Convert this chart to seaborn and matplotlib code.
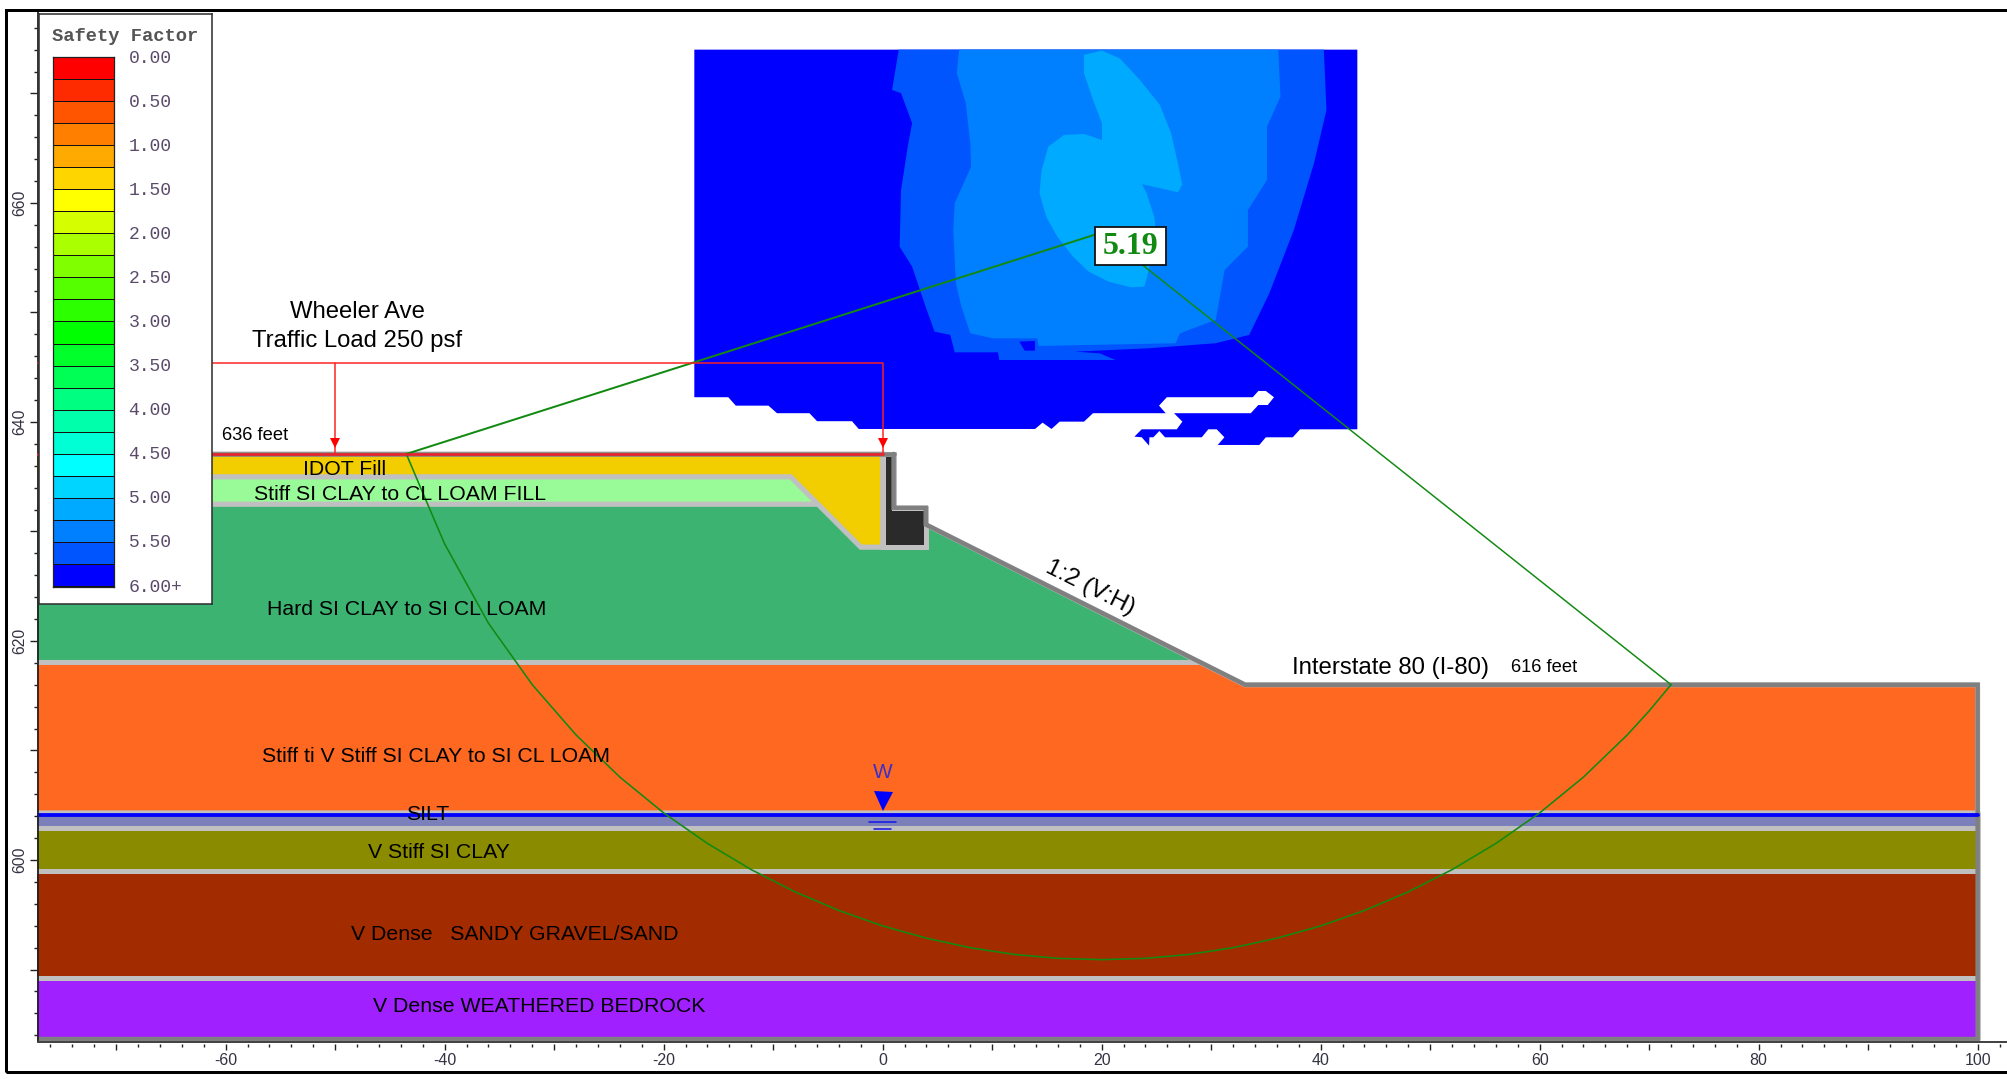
import matplotlib
matplotlib.use('Agg')
import matplotlib.pyplot as plt
from matplotlib.colors import ListedColormap
from matplotlib.patches import Rectangle
import numpy as np
import seaborn as sns

W, H = 2007, 1079

# --- legend
legend_title = 'Safety Factor'
legend_labels = ['0.00', '0.50', '1.00', '1.50', '2.00', '2.50', '3.00', '3.50', '4.00', '4.50', '5.00', '5.50', '6.00+']
legend_colors = ['#ff0000', '#ff2b00', '#ff5500', '#ff8000', '#ffaa00', '#ffd500', '#ffff00', '#d5ff00',
                 '#aaff00', '#80ff00', '#55ff00', '#2bff00', '#00ff00', '#00ff2b', '#00ff55', '#00ff80',
                 '#00ffaa', '#00ffd5', '#00ffff', '#00d5ff', '#00aaff', '#0080ff', '#0055ff', '#0000ff']

# --- axis ticks
x_major = [-70, -60, -50, -40, -30, -20, -10, 0, 10, 20, 30, 40, 50, 60, 70, 80, 90, 100]
x_labels = ['', '-60', '', '-40', '', '-20', '', '0', '', '20', '', '40', '', '60', '', '80', '', '100']
y_major = [590, 600, 610, 620, 630, 640, 650, 660, 670]
y_labels = ['', '600', '', '620', '', '640', '', '660', '']

# --- slope section, elevations in feet (left ends run past the axis and get clipped)
left_x, right_x = -79, 100
crest_y = 637.08
fill_x = [-79, 0, 0, -2, -8.4, -79]
fill_y = [637.08, 637.08, 628.58, 628.58, 635, 635]
clay_fill_x = [-79, -8.4, -5.9, -79]
clay_fill_y = [635, 635, 632.5, 632.5]
hard_clay_x = [-79, -5.9, -2, 3.93, 3.93, 29, -79]
hard_clay_y = [632.5, 632.5, 628.58, 628.58, 630.64, 618.04, 618.04]
wall_x = [0, 1, 1, 3.93, 3.93, 0]
wall_y = [637.08, 637.08, 632.17, 632.17, 628.58, 628.58]
stiff_x = [-79, 29, 33.1, 100, 100, -79]
stiff_y = [618.04, 618.04, 616, 616, 604.3, 604.3]
profile_x = [1, 1, 3.93, 3.93, 33.1, 100, 100, -79]
profile_y = [637.08, 632.17, 632.17, 630.64, 616, 616, 583.65, 583.65]
water_y = 604.1

strata_names = ['silt', 'v_stiff', 'gravel', 'bedrock']
strata_top = [604.3, 602.9, 599.04, 589.2]
strata_bottom = [602.9, 599.04, 589.2, 583.65]
strata_colors = ['#7c80ba', '#8b8b00', '#a32b00', '#a020ff']

# --- safety factor contours on the search grid
grid_x = [-17.2, 43.35, 43.35, 38.12, 37.45, 34.99, 34.40, 30.60, 31.21, 30.51, 29.74, 29.14, 25.79, 25.27,
          24.72, 24.36, 24.33, 23.66, 22.99, 23.66, 26.86, 27.37, 26.61, 33.62, 34.31, 35.17, 35.74, 34.99,
          34.31, 33.80, 25.95, 25.24, 25.85, 19.21, 18.39, 16.16, 15.42, 14.60, 13.92, -2.19, -2.80, -5.99,
          -6.68, -9.65, -10.43, -13.41, -14.10, -17.2]
grid_y = [674.0, 674.0, 639.33, 639.33, 638.60, 638.60, 637.90, 637.90, 638.60, 639.33, 639.33, 638.60, 638.60,
          639.18, 638.60, 638.60, 637.84, 638.60, 638.66, 639.33, 639.33, 640.03, 640.80, 640.80, 641.55, 641.55,
          642.26, 642.83, 642.83, 642.26, 642.26, 641.49, 640.80, 640.80, 640.03, 640.03, 639.36, 639.94, 639.36,
          639.36, 640.07, 640.07, 640.80, 640.80, 641.49, 641.49, 642.26, 642.26]
sf_55_x = [1.47, 0.86, 1.68, 2.69, 2.29, 1.68, 1.55, 2.69, 3.92, 4.74, 6.17, 6.58, 10.53, 10.65, 21.25, 19.82,
           17.58, 24.31, 30.42, 33.48, 35.31, 37.55, 39.39, 40.53, 40.29]
sf_55_y = [674.0, 670.32, 670.02, 667.28, 665.14, 661.19, 656.01, 654.18, 650.53, 648.25, 647.95, 646.36, 646.36,
           645.66, 645.66, 646.27, 646.42, 646.73, 647.19, 647.95, 651.75, 657.53, 663.63, 668.49, 674.0]
sf_53_x = [6.98, 6.78, 7.59, 8.0, 8.08, 6.58, 6.45, 6.69, 7.19, 8.0, 10.04, 14.11, 14.24, 26.75, 27.16, 30.42,
           31.23, 33.36, 33.36, 35.1, 35.1, 36.33, 36.13]
sf_53_y = [674.0, 671.84, 669.11, 665.45, 663.32, 659.97, 657.53, 652.67, 650.53, 648.10, 647.64, 647.64, 646.94,
           647.19, 648.10, 649.32, 653.88, 656.01, 659.36, 662.1, 666.97, 669.71, 674.0]
sf_notch_x = [12.48, 13.91, 13.91, 12.97]
sf_notch_y = [647.34, 647.4, 646.51, 646.51]
sf_51_x = [18.39, 20.03, 21.65, 23.49, 25.32, 26.34, 26.96, 27.36, 26.96, 24.71, 23.69, 24.1, 24.8, 24.91, 24.31,
           23.9, 22.67, 20.64, 18.8, 17.38, 15.95, 14.93, 14.32, 14.52, 15.13, 16.56, 18.39, 20.03, 20.03, 19.21, 18.39]
sf_51_y = [673.52, 673.91, 673.21, 671.23, 668.95, 666.37, 663.63, 661.65, 660.98, 661.49, 661.71, 660.89, 658.75,
           657.84, 653.88, 652.36, 652.30, 652.81, 653.73, 655.10, 656.92, 658.75, 660.89, 663.02, 665.14, 666.21,
           666.30, 665.75, 667.28, 669.41, 671.84]

# --- critical slip surface
slip_x = [-43.5, -42, -40, -36, -32, -28, -24, -20, -16, -12, -8, -4, 0, 4, 8, 12, 16, 20, 24, 28, 32, 36, 40,
          44, 48, 52, 56, 60, 64, 68, 70, 72]
slip_y = [637.08, 633.53, 628.86, 621.62, 616.01, 611.42, 607.57, 604.3, 601.51, 599.12, 597.09, 595.39, 593.98,
          592.86, 591.99, 591.38, 591.02, 590.9, 591.02, 591.38, 591.99, 592.86, 593.98, 595.39, 597.09, 599.12,
          601.51, 604.3, 607.57, 611.42, 613.61, 616.01]
slip_centre = (20, 657.3)
slip_ends_x = [-43.5, 72]
slip_ends_y = [637.08, 616.01]
safety_factor = '5.19'

# --- text labels
layer_labels = ['IDOT Fill', 'Stiff SI CLAY to CL LOAM FILL', 'Hard SI CLAY to SI CL LOAM',
                'Stiff ti V Stiff SI CLAY to SI CL LOAM', 'SILT', 'V Stiff SI CLAY',
                'V Dense   SANDY GRAVEL/SAND', 'V Dense WEATHERED BEDROCK']
layer_label_x = [-52.96, -57.44, -56.22, -56.68, -43.52, -47.0, -48.55, -46.54]
layer_label_y = [635.68, 633.37, 622.86, 609.44, 604.14, 600.67, 593.21, 586.61]

sns.set_theme(style='white')
plt.rcParams['font.family'] = ['Liberation Sans', 'DejaVu Sans']

GREY = '#c0c0c0'
DARK_GREY = '#808080'
GREEN = '#128a12'
PX = 0.72  # one pixel in points at dpi 100

fig = plt.figure(figsize=(W / 100, H / 100), dpi=100, facecolor='white')

# axes edge sits where the ticks start, the drawn axis line is a little inside
ax_l, ax_t, ax_b = 37, 10, 1044.3
ax = fig.add_axes([ax_l / W, 1 - ax_b / H, (W - ax_l) / W, (ax_b - ax_t) / H], facecolor='none')

# contours
ax.fill(grid_x, grid_y, color='#0000ff', lw=0, zorder=2)
ax.fill(sf_55_x, sf_55_y, color='#0055ff', lw=0, zorder=2.1)
ax.fill(sf_53_x, sf_53_y, color='#0080ff', lw=0, zorder=2.2)
ax.fill(sf_notch_x, sf_notch_y, color='#0000ff', lw=0, zorder=2.3)
ax.fill(sf_51_x, sf_51_y, color='#00aaff', lw=0, zorder=2.3)

# soil layers
edge = dict(edgecolor=GREY, linewidth=5 * PX, joinstyle='miter')
ax.fill(stiff_x, stiff_y, facecolor='#ff6820', zorder=2.5, **edge)
ax.fill(hard_clay_x, hard_clay_y, facecolor='#3cb371', zorder=2.6, **edge)
ax.fill(clay_fill_x, clay_fill_y, facecolor='#98fb98', zorder=2.7, **edge)
ax.fill(fill_x, fill_y, facecolor='#f2cd00', zorder=2.8, **edge)
ax.fill(wall_x, wall_y, facecolor='#2a2a2a', zorder=2.9, **edge)
for top, bottom, colour in zip(strata_top, strata_bottom, strata_colors):
    ax.fill_between([left_x, right_x], bottom, top, facecolor=colour, edgecolor=GREY,
                    linewidth=5 * PX, zorder=2.55)
ax.plot(profile_x, profile_y, color=DARK_GREY, lw=4.5 * PX, solid_joinstyle='miter', zorder=3)
ax.plot([left_x, 1], [crest_y, crest_y], color=DARK_GREY, lw=4.5 * PX, zorder=3)
ax.plot([left_x, right_x], [water_y, water_y], color='#0000ff', lw=3.8 * PX, zorder=3.2)

# water table symbol
ax.plot(0, 605.39, marker='v', ms=19 * PX, color='#0000ff', mew=0, zorder=4)
ax.plot([-1.23, 1.23], [603.47, 603.47], color='#1a1ae6', lw=1.6 * PX, zorder=4)
ax.plot([-0.8, 0.8], [602.83, 602.83], color='#1a1ae6', lw=1.6 * PX, zorder=4)
ax.text(0, 608.01, 'W', color='#3a30c8', fontsize=15, ha='center', va='center', zorder=4)

# slip surface and radii
sns.lineplot(x=slip_x, y=slip_y, color=GREEN, lw=1.6 * PX, sort=False, estimator=None, ax=ax, zorder=5)
ax.plot([slip_ends_x[0], slip_centre[0]], [slip_ends_y[0], slip_centre[1]], color=GREEN, lw=2 * PX, zorder=5)
ax.plot([slip_ends_x[1], slip_centre[0]], [slip_ends_y[1], slip_centre[1]], color=GREEN, lw=1.5 * PX, zorder=5)

# traffic load
ax.plot([left_x, 0], [crest_y, crest_y], color='#e8202a', lw=2.6 * PX, zorder=5.5)
ax.plot([left_x, 0, 0], [645.41, 645.41, crest_y], color='#ff2020', lw=1.5 * PX, zorder=5.5)
ax.plot([-50, -50], [645.41, crest_y], color='#ff2020', lw=1.5 * PX, zorder=5.5)
ax.plot([-50, 0], [638.1, 638.1], ls='none', marker='v', ms=9.5 * PX, color='#ff0000', mew=0, zorder=5.6)

# axis lines
ax.plot([-77.13, -77.13], [583.38, 677.6], color='#222222', lw=1.8 * PX, zorder=3.5)
ax.plot([-77.13, 102.7], [583.38, 583.38], color='#444444', lw=2 * PX, zorder=3.5)

# texts
for label, tx, ty in zip(layer_labels, layer_label_x, layer_label_y):
    ax.text(tx, ty, label, fontsize=15.3, color='black', ha='left', va='center', zorder=6)
ax.text(-48.0, 650.08, 'Wheeler Ave', fontsize=17.2, color='black', ha='center', va='center', zorder=6)
ax.text(-48.0, 647.43, 'Traffic Load 250 psf', fontsize=17.2, color='black', ha='center', va='center', zorder=6)
ax.text(-60.33, 638.73, '636 feet', fontsize=13.2, color='black', ha='left', va='center', zorder=6)
ax.text(37.39, 617.5, 'Interstate 80 (I-80)', fontsize=17.3, color='black', ha='left', va='center', zorder=6)
ax.text(57.39, 617.55, '616 feet', fontsize=13.2, color='black', ha='left', va='center', zorder=6)
ax.text(18.94, 624.9, '1:2 (V:H)', fontsize=17.6, color='black', rotation=-26.57, rotation_mode='anchor',
        ha='center', va='center', zorder=6)
ax.add_patch(Rectangle((19.4, 654.34), 6.48, 3.5, fc='white', ec='#111111', lw=1.8 * PX, zorder=7.9))
ax.text(22.64, 656.0, safety_factor, fontsize=23, fontweight='bold', family=['Liberation Serif', 'DejaVu Serif'],
        color=GREEN, ha='center', va='center', zorder=8)

# scales
ax.set_xlim(-77.23, 102.68)
ax.set_ylim(583.17, 677.62)
ax.set_xticks(x_major)
ax.set_xticklabels(x_labels)
ax.set_yticks(y_major)
ax.set_yticklabels(y_labels, rotation=90, va='center')
ax.set_xticks(np.arange(-76, 103, 2), minor=True)
ax.set_yticks(np.arange(584, 678, 2), minor=True)
ax.tick_params(axis='x', which='major', length=4.5, width=1, color='#222222', pad=2, labelsize=11.5,
               labelcolor='#333344', bottom=True)
ax.tick_params(axis='y', which='major', length=5, width=1, color='#222222', pad=2, labelsize=11.3,
               labelcolor='#333344', left=True)
ax.tick_params(axis='both', which='minor', length=2.4, width=1, color='#222222', bottom=True, left=True)
ax.grid(False)
for side in ax.spines:
    ax.spines[side].set_visible(False)
ax.set_xlabel('')
ax.set_ylabel('')

# legend panel
panel = fig.add_axes([38.5 / W, 1 - 604 / H, 173.2 / W, (604 - 13.8) / H], facecolor='white', zorder=10)
panel.set_xticks([])
panel.set_yticks([])
for side in panel.spines:
    panel.spines[side].set_visible(True)
    panel.spines[side].set_color('#333333')
    panel.spines[side].set_linewidth(1.6 * PX)
fig.text(125.5 / W, 1 - 36.8 / H, legend_title, fontsize=13.5, family=['Liberation Mono', 'DejaVu Sans Mono'],
         color='#555555', fontweight='bold', ha='center', va='center', zorder=12)

bar = fig.add_axes([52.7 / W, 1 - 587 / H, 61.3 / W, (587 - 57.3) / H], zorder=11)
cell_index = np.arange(len(legend_colors)).reshape(-1, 1)
sns.heatmap(cell_index, cmap=ListedColormap(legend_colors), cbar=False, linewidths=0.7, linecolor='#111111',
            xticklabels=False, yticklabels=False, ax=bar)
bar.set_yticks(np.arange(0, len(legend_colors) + 1, 2) + 0.06)
bar.set_yticklabels(legend_labels, rotation=0, family=['Liberation Mono', 'DejaVu Sans Mono'], fontsize=13,
                    color='#5a4a6a', va='center')
bar.yaxis.tick_right()
bar.tick_params(axis='y', length=0, pad=10.5, right=False)
for side in bar.spines:
    bar.spines[side].set_visible(True)
    bar.spines[side].set_color('#222222')
    bar.spines[side].set_linewidth(0.9)

# outer frame, open past the right edge
fig.add_artist(Rectangle((5.7 / W, 1 - 1071.7 / H), (W + 40) / W, (1071.7 - 10) / H, transform=fig.transFigure,
                         fill=False, ec='black', lw=3 * PX))

fig.savefig('out.png', dpi=100)
